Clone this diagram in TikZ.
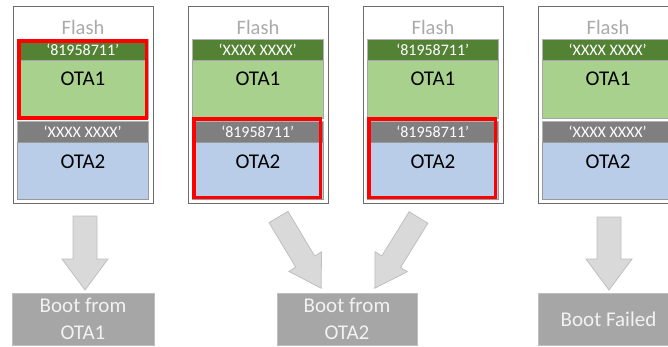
\documentclass[tikz,border=0pt]{standalone}
\usepackage{fontspec}
\setmainfont{Carlito}
\definecolor{hdrgreen}{HTML}{548235}
\definecolor{bodygreen}{HTML}{A9D18E}
\definecolor{hdrgray}{HTML}{7F7F7F}
\definecolor{bodyblue}{HTML}{B9CCE8}
\definecolor{arrfill}{HTML}{D9D9D9}
\definecolor{arrline}{HTML}{BFBFBF}
\definecolor{bootfill}{HTML}{A6A6A6}
\definecolor{flashgray}{HTML}{AAAAAA}
\definecolor{redline}{HTML}{FF0000}
\newcommand\flashcol[4]{%
\begin{scope}[shift={(#1,0)}]
 \node[outerbox] (#2box) at (0,6) {};
 \node[flashtxt] (#2fl) at (70,27) {Flash};
 \node[hdrg] (#2h1) at (4,39) {#3};
 \node[bodyg] (#2b1) at (4,60) {};
 \node[bodytxt] (#2t1) at (70,79) {OTA1};
 \node[hdrk] (#2h2) at (4,121) {#4};
 \node[bodyb] (#2b2) at (4,142) {};
 \node[bodytxt] (#2t2) at (70,162) {OTA2};
\end{scope}}
\newcommand\blockarrow[6]{% tail x, tail y, angle, length, shaft half, head half
\begin{scope}[shift={(#1,#2)},rotate=#3]
 \draw[arrowshape] (0,#5) -- (#4-31,#5) -- (#4-31,#6) -- (#4,0) -- (#4-31,-#6) -- (#4-31,-#5) -- (0,-#5) -- cycle;
\end{scope}}
\begin{document}
\begin{tikzpicture}[x=1pt,y=-1pt,
  outerbox/.style={draw=gray!85!black,line width=0.8pt,fill=white,anchor=north west,minimum width=140,minimum height=197,inner sep=0},
  flashtxt/.style={text=flashgray,font=\fontsize{20.5}{24}\selectfont,inner sep=0},
  blockbase/.style={anchor=north west,minimum width=131,inner sep=0,line width=0.4pt},
  hdrg/.style={blockbase,fill=hdrgreen,draw=gray!60,minimum height=21,text=white,font=\fontsize{16}{18}\selectfont},
  hdrk/.style={blockbase,fill=hdrgray,draw=gray!60,minimum height=21,text=white,font=\fontsize{16}{18}\selectfont},
  bodyg/.style={blockbase,fill=bodygreen,draw=gray!70,minimum height=58},
  bodyb/.style={blockbase,fill=bodyblue,draw=gray!80,minimum height=57},
  bodytxt/.style={text=black,font=\fontsize{21}{24}\selectfont,inner sep=0},
  redbox/.style={draw=redline,line width=3.5pt},
  arrowshape/.style={fill=arrfill,draw=arrline,line width=0.8pt,line join=miter},
  bootbox/.style={fill=bootfill,draw=arrline,line width=0.5pt,text=white!95!black,align=center,
    font=\fontsize{21}{27}\selectfont,minimum height=52,inner sep=0}]
\useasboundingbox (0,0) rectangle (668,346);
\fill[white] (0,0) rectangle (668,346);
\clip (0,0) rectangle (668,346);
\flashcol{13}{ca}{‘81958711’}{‘XXXX XXXX’}
\flashcol{188}{cb}{‘XXXX XXXX’}{‘81958711’}
\flashcol{363}{cc}{‘81958711’}{‘81958711’}
\flashcol{538}{cd}{‘XXXX XXXX’}{‘XXXX XXXX’}
% red frames
\draw[redbox] ([shift={(1.75,1.75)}]cah1.north west) rectangle ([shift={(-1.75,-0.25)}]cab1.south east);
\draw[redbox] ([shift={(1.75,0.75)}]cbb1.south west) rectangle ([shift={(-2.75,-1.75)}]cbb2.south east);
\draw[redbox] ([shift={(1.75,0.75)}]ccb1.south west) rectangle ([shift={(-2.75,-1.75)}]ccb2.south east);
% boot result boxes
\node[bootbox,minimum width=142] (boot1) at (83,319) {Boot from\\OTA1};
\node[bootbox,minimum width=140] (boot2) at (347,319) {Boot from\\OTA2};
\node[bootbox,minimum width=141] (boot3) at (608.5,319) {Boot Failed};
% block arrows
\blockarrow{85}{216}{-90}{74}{12}{23}
\blockarrow{278.5}{217}{-59.1}{83}{11}{19}
\blockarrow{418.5}{217.5}{-121.7}{83}{11}{19}
\blockarrow{609}{217}{-90}{73}{12}{23}
\end{tikzpicture}
\end{document}
